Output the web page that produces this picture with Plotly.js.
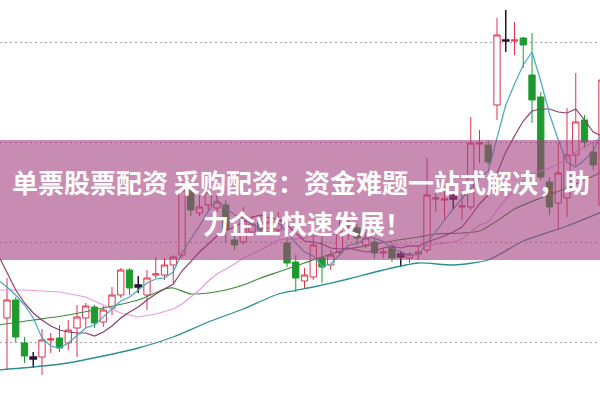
<!DOCTYPE html>
<html><head><meta charset="utf-8">
<script src="https://cdn.plot.ly/plotly-3.0.1.min.js"></script>
<style>html,body{margin:0;padding:0;background:#fff;}#chart{width:600px;height:400px;}</style>
</head><body><div id="chart"></div>
<script>
// candle index (trading day)
const days = [0,1,2,3,4,5,6,7,8,9,10,11,12,13,14,15,16,17,18,19,20,21,22,23,24,25,26,27,28,29,30,31,32,33,34,35,36,37,38,39,40,41,42,43,44,45,46,47,48,49,50,51,52,53,54,55,56,57,58,59,60,61,62,63,64,65,66,67,68];
const openP = [10.24,10.42,9.99,9.85,9.85,10.02,10.04,9.99,10.14,10.24,
  10.35,10.20,10.34,10.47,10.72,10.55,10.47,10.67,10.67,10.77,
  10.87,11.52,11.29,11.37,11.34,11.37,11.02,11.00,11.10,11.20,
  11.10,11.12,10.99,10.80,10.61,10.65,10.84,10.77,10.90,11.13,
  11.14,10.97,11.00,10.89,10.95,10.88,10.84,10.88,10.92,11.43,
  11.42,11.46,11.35,11.35,11.98,11.97,12.37,13.02,13.01,13.04,
  12.67,12.45,11.60,11.39,11.44,11.87,12.22,11.90,11.37];
const closeP = [10.42,10.05,9.86,9.83,10.02,10.03,9.94,10.12,10.25,10.36,
  10.19,10.32,10.47,10.72,10.54,10.57,10.64,10.68,10.77,10.85,
  11.52,11.32,11.35,11.50,11.40,11.12,10.97,11.22,11.18,11.12,
  11.20,11.22,10.79,10.64,10.67,10.97,10.75,10.87,11.10,11.14,
  11.04,11.04,10.89,10.90,10.84,10.85,10.88,10.90,11.47,11.44,
  11.43,11.43,11.36,11.99,11.99,11.80,13.07,13.01,13.02,12.97,
  12.42,11.65,11.35,11.69,11.87,12.20,12.00,11.77,12.62];
const highP = [10.64,10.45,10.05,9.90,10.13,10.09,10.17,10.22,10.37,10.39,
  10.37,10.36,10.55,10.74,10.74,10.66,10.72,10.85,10.84,10.87,
  11.62,11.59,11.47,11.59,11.47,11.42,11.12,11.35,11.24,11.27,
  11.28,11.30,11.09,10.87,10.74,11.07,11.07,10.92,11.22,11.22,
  11.18,11.10,11.04,10.94,10.99,10.91,10.90,10.95,11.84,11.52,
  11.55,11.49,11.52,12.25,12.12,12.02,13.24,13.32,13.20,13.05,
  13.09,12.50,11.65,11.99,12.34,12.69,12.27,12.00,12.67];
const lowP = [9.72,10.00,9.79,9.74,9.67,9.89,9.90,9.92,9.85,10.14,
  10.14,10.15,10.27,10.44,10.47,10.49,10.32,10.64,10.62,10.59,
  10.84,11.26,11.26,11.32,11.30,10.99,10.92,10.97,11.06,11.08,
  11.06,11.08,10.75,10.50,10.54,10.62,10.59,10.72,10.87,11.02,
  10.98,10.94,10.84,10.84,10.80,10.75,10.79,10.82,10.89,11.30,
  11.22,11.32,11.22,11.32,11.79,11.77,12.22,12.90,12.87,12.74,
  12.19,11.62,11.27,11.12,11.25,11.77,11.94,11.72,11.32];
// doji days drawn with the dark marker style
const markedDays = [3,15,45,51,57];

// moving averages
const maIdx = [-1,0,1,2,3,4,5,6,7,8,9,10,11,12,13,14,15,16,17,18,19,20,21,22,23,24,25,26,27,28,29,30,31,32,33,34,35,36,37,38,39,40,41,42,43,44,45,46,47,48,49,50,51,52,53,54,55,56,57,58,59,60,61,62,63,64,65,66,67,68];
const ma5 = [10.62,10.55,10.47,10.37,10.24,10.04,9.96,9.94,9.99,10.07,
  10.14,10.17,10.25,10.32,10.41,10.45,10.52,10.59,10.63,10.64,
  10.70,10.89,11.03,11.16,11.31,11.42,11.34,11.27,11.24,11.18,
  11.12,11.14,11.19,11.10,10.99,10.90,10.86,10.76,10.78,10.87,
  10.97,10.98,11.04,11.04,11.00,10.94,10.90,10.87,10.87,10.99,
  11.11,11.22,11.33,11.43,11.53,11.64,11.71,12.04,12.37,12.58,
  12.77,12.90,12.61,12.28,12.02,11.80,11.75,11.82,11.91,12.09];
const ma10 = [10.87,10.70,10.52,10.39,10.29,10.22,10.16,10.12,10.10,10.09,
  10.09,10.06,10.10,10.16,10.24,10.30,10.35,10.42,10.48,10.53,
  10.58,10.71,10.81,10.90,10.98,11.06,11.12,11.15,11.20,11.25,
  11.27,11.24,11.23,11.17,11.09,11.01,11.00,10.98,10.94,10.93,
  10.94,10.92,10.90,10.91,10.94,10.96,10.94,10.96,10.96,11.00,
  11.03,11.06,11.10,11.15,11.26,11.38,11.47,11.69,11.90,12.06,
  12.21,12.31,12.33,12.33,12.30,12.29,12.33,12.22,12.10,12.06];
const ma20Idx = [-1,2,6,9,11,13,15,17,19,20,21,22,23,24,25,26,27,28,29,30,31,32,33,34,35,36,37,38,39,40,41,42,43,44,45,46,47,48,49,50,51,52,53,54,55,56,57,58,59,60,61,62,63,64,65,66,67,68];
const ma20 = [10.52,10.52,10.50,10.45,10.37,10.29,10.25,10.28,
  10.33,10.38,10.45,10.52,10.61,10.68,10.73,10.78,10.84,10.88,
  10.92,10.97,11.02,11.03,11.03,11.04,11.06,11.06,11.07,11.09,
  11.10,11.08,11.07,11.04,11.01,10.98,10.97,10.97,10.95,10.96,
  10.98,10.99,11.00,11.03,11.10,11.17,11.20,11.32,11.43,11.52,
  11.61,11.68,11.71,11.74,11.78,11.83,11.90,11.95,12.00,12.06];
const ma30Idx = [-1,3,7,11,15,18,19,21,23,25,27,29,31,34,36,39,41,44,47,49,52,54,56,58,61,64,66,68];
const ma30 = [10.17,10.22,10.27,10.34,10.42,10.53,10.54,10.48,10.49,10.52,
  10.57,10.64,10.70,10.79,10.85,10.93,10.96,11.01,11.05,11.08,
  11.09,11.11,11.21,11.33,11.44,11.54,11.62,11.70];
const ma60Idx = [-1,3,7,11,15,19,23,27,31,35,39,43,47,51,55,59,64,68];
const ma60 = [9.72,9.75,9.79,9.86,9.94,10.05,10.20,10.33,10.48,10.55,
  10.63,10.72,10.79,10.77,10.82,11.01,11.16,11.30];

const gridLevels = [10,11,12,13];
const titleLine1 = '单票股票配资 采购配资：资金难题一站式解决，助';
const titleLine2 = '力企业快速发展！';

const isMarked = d => markedDays.indexOf(d) >= 0;
function pick(arr, keep) { return days.filter(keep).map(d => arr[days.indexOf(d)]); }

const RED = '#d8344c', GREEN = '#1e9a2e';
const normal = d => !isMarked(d);
const traces = [
  {
    type: 'candlestick', x: days.filter(normal),
    open: pick(openP, normal), high: pick(highP, normal), low: pick(lowP, normal), close: pick(closeP, normal),
    increasing: { line: { color: RED, width: 1 }, fillcolor: '#ffffff' },
    decreasing: { line: { color: GREEN, width: 1 }, fillcolor: GREEN },
    whiskerwidth: 0, hoverinfo: 'skip'
  },
  {
    type: 'candlestick', x: days.filter(isMarked),
    open: pick(openP, isMarked), high: pick(highP, isMarked), low: pick(lowP, isMarked), close: pick(closeP, isMarked),
    increasing: { line: { color: '#2a1030', width: 1.5 }, fillcolor: '#d77bd0' },
    decreasing: { line: { color: '#2a1030', width: 1.5 }, fillcolor: '#d77bd0' },
    whiskerwidth: 0, hoverinfo: 'skip'
  },
  { type: 'scatter', mode: 'lines', x: ma60Idx, y: ma60, line: { color: '#2b9090', width: 1.3, shape: 'spline', smoothing: 0.6 }, hoverinfo: 'skip' },
  { type: 'scatter', mode: 'lines', x: ma30Idx, y: ma30, line: { color: '#3a8a3a', width: 1.2, shape: 'spline', smoothing: 0.6 }, hoverinfo: 'skip' },
  { type: 'scatter', mode: 'lines', x: ma20Idx, y: ma20, line: { color: '#e49ee2', width: 1.2 }, hoverinfo: 'skip' },
  { type: 'scatter', mode: 'lines', x: maIdx, y: ma10, line: { color: '#8c3d6c', width: 1.2 }, hoverinfo: 'skip' },
  { type: 'scatter', mode: 'lines', x: maIdx, y: ma5, line: { color: '#45a9bd', width: 1.2 }, hoverinfo: 'skip' }
];

const layout = {
  width: 600, height: 400,
  margin: { l: 0, r: 0, t: 0, b: 0, pad: 0 },
  paper_bgcolor: '#ffffff', plot_bgcolor: '#ffffff',
  showlegend: false, hovermode: false,
  boxgap: 0.1, boxgroupgap: 0.2,
  xaxis: { range: [-0.8, 67.771], showgrid: false, zeroline: false, showticklabels: false, ticks: '', rangeslider: { visible: false }, fixedrange: true },
  yaxis: { range: [9.42, 13.42], tickvals: gridLevels, showgrid: true, gridcolor: '#a0a0a0', griddash: '2px,3px', gridwidth: 1,
           zeroline: false, showticklabels: false, ticks: '', fixedrange: true },
  shapes: [{ type: 'rect', xref: 'paper', yref: 'paper', x0: 0, x1: 1, y0: 0.35, y1: 0.65,
             fillcolor: 'rgba(163,63,127,0.6)', line: { width: 0 }, layer: 'above' }],
  annotations: [
    { text: titleLine1, xref: 'paper', yref: 'paper', x: 0.502, y: 0.547, xanchor: 'center', yanchor: 'middle', showarrow: false,
      font: { family: 'Noto Sans CJK SC', size: 26, color: '#ffffff', weight: 700 } },
    { text: titleLine2, xref: 'paper', yref: 'paper', x: 0.512, y: 0.443, xanchor: 'center', yanchor: 'middle', showarrow: false,
      font: { family: 'Noto Sans CJK SC', size: 26, color: '#ffffff', weight: 700 } }
  ]
};
Plotly.newPlot('chart', traces, layout, { staticPlot: true, displayModeBar: false });
</script></body></html>
